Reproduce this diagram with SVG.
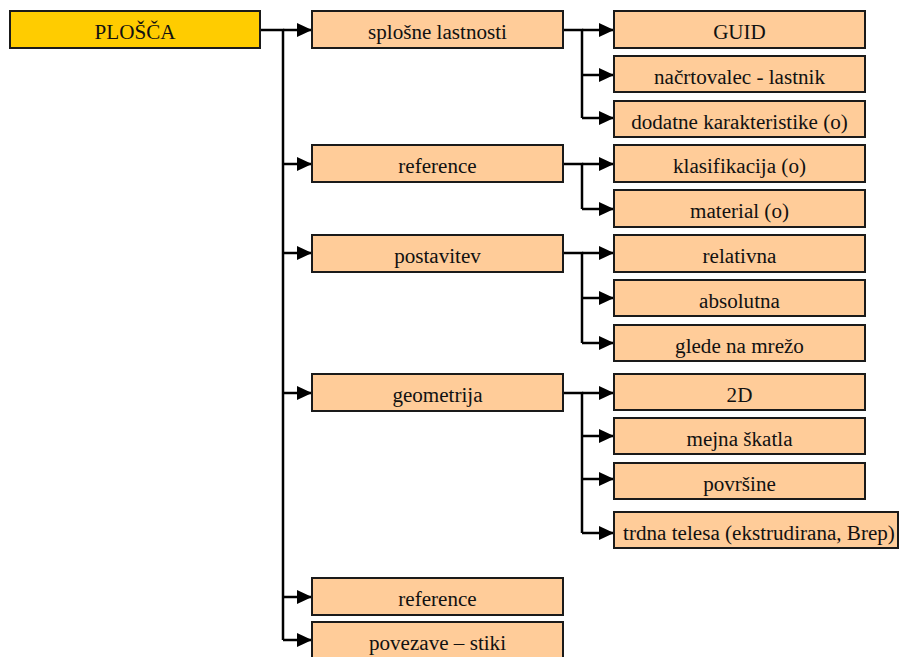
<svg xmlns="http://www.w3.org/2000/svg" width="900" height="657" viewBox="0 0 900 657">
<style>
.box{fill:#FFCC99;stroke:#1a1a1a;stroke-width:2}
.root{fill:#FFCC00;stroke:#1a1a1a;stroke-width:2}
.t{font-family:"Liberation Serif","Times New Roman",serif;font-size:21.1px;fill:#111;text-anchor:middle}
.c{fill:none;stroke:#000;stroke-width:2.5}
.a{fill:none;stroke:#000;stroke-width:2.5;marker-end:url(#ah)}
</style>
<defs>
<marker id="ah" markerUnits="userSpaceOnUse" markerWidth="16" markerHeight="16" refX="15" refY="7" orient="auto">
<path d="M0,0 L15,7 L0,14 z" fill="#000"/>
</marker>
</defs>
<g id="connectors">
<path class="c" d="M260,30 H283 V640"/>
<path class="a" d="M283,30 H312"/>
<path class="a" d="M283,164 H312"/>
<path class="a" d="M283,253 H312"/>
<path class="a" d="M283,393 H312"/>
<path class="a" d="M283,597 H312"/>
<path class="a" d="M283,640 H312"/>
<path class="c" d="M563,30 H582 V118"/>
<path class="a" d="M582,30 H614"/>
<path class="a" d="M582,75 H614"/>
<path class="a" d="M582,118 H614"/>
<path class="c" d="M563,164 H582 V209"/>
<path class="a" d="M582,164 H614"/>
<path class="a" d="M582,209 H614"/>
<path class="c" d="M563,253 H582 V343"/>
<path class="a" d="M582,253 H614"/>
<path class="a" d="M582,298 H614"/>
<path class="a" d="M582,343 H614"/>
<path class="c" d="M563,393 H582 V533"/>
<path class="a" d="M582,393 H614"/>
<path class="a" d="M582,436 H614"/>
<path class="a" d="M582,479 H614"/>
<path class="a" d="M582,533 H614"/>
</g>
<g id="plosca"><rect class="root" x="10" y="11" width="250" height="37"/><text class="t" x="135" y="39">PLOŠČA</text></g>
<g id="splosne"><rect class="box" x="312" y="11" width="251" height="37"/><text class="t" x="437.5" y="39">splošne lastnosti</text></g>
<g id="reference1"><rect class="box" x="312" y="145" width="251" height="37"/><text class="t" x="437.5" y="173">reference</text></g>
<g id="postavitev"><rect class="box" x="312" y="235" width="251" height="37"/><text class="t" x="437.5" y="263">postavitev</text></g>
<g id="geometrija"><rect class="box" x="312" y="374" width="251" height="37"/><text class="t" x="437.5" y="402">geometrija</text></g>
<g id="reference2"><rect class="box" x="312" y="578" width="251" height="37"/><text class="t" x="437.5" y="606">reference</text></g>
<g id="povezave"><rect class="box" x="312" y="622" width="251" height="40"/><text class="t" x="437.5" y="650">povezave – stiki</text></g>
<g id="guid"><rect class="box" x="614" y="11" width="251" height="37"/><text class="t" x="739.5" y="39">GUID</text></g>
<g id="nacrtovalec"><rect class="box" x="614" y="56" width="251" height="36"/><text class="t" x="739.5" y="83.5">načrtovalec - lastnik</text></g>
<g id="dodatne"><rect class="box" x="614" y="101" width="251" height="36"/><text class="t" x="739.5" y="128.5">dodatne karakteristike (o)</text></g>
<g id="klasifikacija"><rect class="box" x="614" y="145" width="251" height="37"/><text class="t" x="739.5" y="173">klasifikacija (o)</text></g>
<g id="material"><rect class="box" x="614" y="190" width="251" height="37"/><text class="t" x="739.5" y="218">material (o)</text></g>
<g id="relativna"><rect class="box" x="614" y="235" width="251" height="37"/><text class="t" x="739.5" y="263">relativna</text></g>
<g id="absolutna"><rect class="box" x="614" y="280" width="251" height="36"/><text class="t" x="739.5" y="307.5">absolutna</text></g>
<g id="glede"><rect class="box" x="614" y="325" width="251" height="36"/><text class="t" x="739.5" y="352.5">glede na mrežo</text></g>
<g id="g2d"><rect class="box" x="614" y="374" width="251" height="36"/><text class="t" x="739.5" y="401.5">2D</text></g>
<g id="mejna"><rect class="box" x="614" y="418" width="251" height="36"/><text class="t" x="739.5" y="445.5">mejna škatla</text></g>
<g id="povrsine"><rect class="box" x="614" y="463" width="251" height="36"/><text class="t" x="739.5" y="490.5">površine</text></g>
<g id="trdna"><rect class="box" x="614" y="512" width="284" height="36"/><text class="t" x="759" y="540">trdna telesa (ekstrudirana, Brep)</text></g>
</svg>
